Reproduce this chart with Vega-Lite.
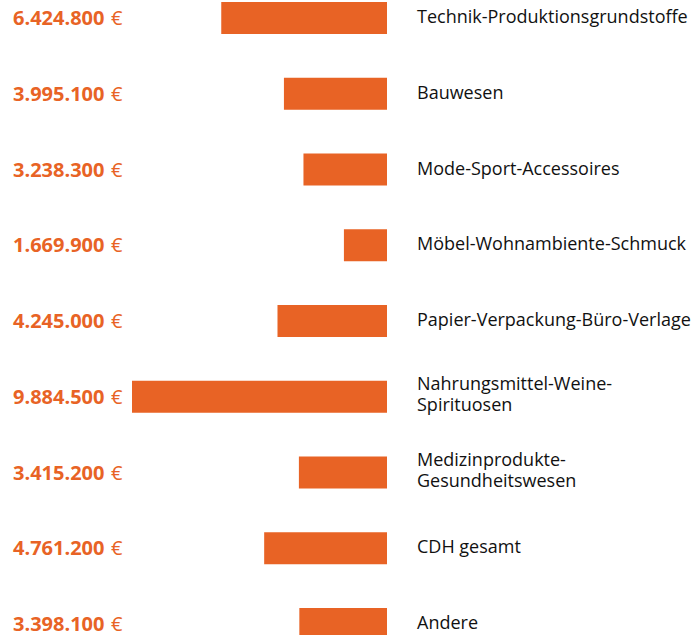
{
  "$schema": "https://vega.github.io/schema/vega-lite/v6.json",
  "width": 698,
  "height": 635,
  "autosize": "none",
  "padding": 0,
  "background": "white",
  "config": {
    "view": {"stroke": null},
    "locale": {"number": {"decimal": ",", "thousands": ".", "grouping": [3], "currency": ["", " €"]}}
  },
  "data": {
    "values": [
      {"row": 0, "category": "Technik-Produktionsgrundstoffe", "value": 6424800},
      {"row": 1, "category": "Bauwesen", "value": 3995100},
      {"row": 2, "category": "Mode-Sport-Accessoires", "value": 3238300},
      {"row": 3, "category": "Möbel-Wohnambiente-Schmuck", "value": 1669900},
      {"row": 4, "category": "Papier-Verpackung-Büro-Verlage", "value": 4245000},
      {"row": 5, "category": "Nahrungsmittel-Weine-\nSpirituosen", "value": 9884500},
      {"row": 6, "category": "Medizinprodukte-\nGesundheitswesen", "value": 3415200},
      {"row": 7, "category": "CDH gesamt", "value": 4761200},
      {"row": 8, "category": "Andere", "value": 3398100}
    ]
  },
  "encoding": {
    "y": {
      "field": "row",
      "type": "quantitative",
      "scale": {"domain": [-0.238, 8.145], "reverse": true, "nice": false, "zero": false, "padding": 0},
      "axis": null
    }
  },
  "layer": [
    {
      "mark": {"type": "bar", "color": "#E86325", "size": 32},
      "encoding": {
        "x": {
          "field": "value",
          "type": "quantitative",
          "scale": {"domain": [-12055300, 15001300], "reverse": true, "nice": false, "zero": false, "padding": 0},
          "axis": null
        },
        "x2": {"datum": 0}
      }
    },
    {
      "mark": {"type": "text", "align": "left", "baseline": "middle", "font": "Open Sans", "fontWeight": "bold", "fontSize": 20, "color": "#E86325", "dy": 1},
      "encoding": {
        "x": {"datum": 14497400},
        "text": {"field": "value", "type": "quantitative", "format": ",d"}
      }
    },
    {
      "mark": {"type": "text", "align": "left", "baseline": "middle", "font": "Open Sans", "fontSize": 20, "color": "#E86325", "dy": 1, "text": "€"},
      "encoding": {
        "x": {"datum": 10698600}
      }
    },
    {
      "transform": [{"filter": "indexof(datum.category, '\\n') < 0"}],
      "mark": {"type": "text", "align": "left", "baseline": "middle", "font": "Open Sans", "fontSize": 18, "color": "#111111"},
      "encoding": {
        "x": {"datum": -1163000},
        "text": {"field": "category", "type": "nominal"}
      }
    },
    {
      "transform": [{"filter": "indexof(datum.category, '\\n') >= 0"}],
      "mark": {"type": "text", "align": "left", "baseline": "middle", "font": "Open Sans", "fontSize": 18, "color": "#111111", "lineBreak": "\n", "lineHeight": 21, "dy": -12},
      "encoding": {
        "x": {"datum": -1163000},
        "text": {"field": "category", "type": "nominal"}
      }
    }
  ]
}
